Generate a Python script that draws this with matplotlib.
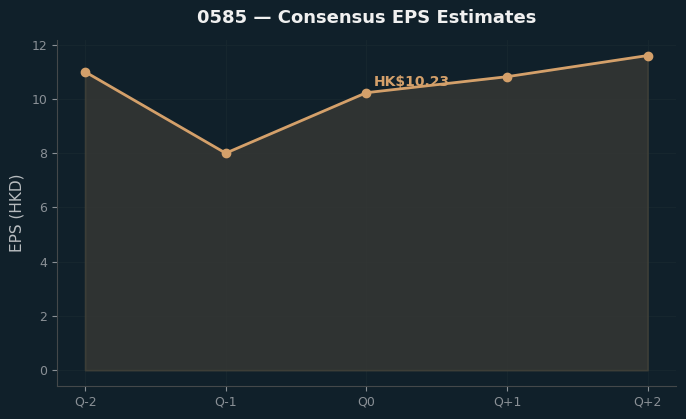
import numpy as np
import matplotlib.pyplot as plt

# consensus EPS per quarter
quarters = ["Q-2", "Q-1", "Q0", "Q+1", "Q+2"]
eps = [11.0, 8.0, 10.23, 10.82, 11.6]
current_label = "HK$10.23"

bg = "#10202a"
line_col = "#d4a06a"

fig = plt.figure(figsize=(6.86, 4.19), dpi=100, facecolor=bg)
ax = fig.add_axes([0.083, 0.079, 0.902, 0.826])
ax.set_facecolor(bg)

x = np.arange(len(quarters))
ax.fill_between(x, eps, 0, color="#3a3a36", alpha=0.75, edgecolor="#45443a", linewidth=1.2)
ax.plot(x, eps, color=line_col, linewidth=2, marker="o", markersize=6)
ax.annotate(current_label, (x[2], eps[2]), xytext=(5, 3), textcoords="offset points",
            color=line_col, fontsize=10, fontweight="bold", ha="left", va="bottom")

ax.set_xticks(x)
ax.set_xticklabels(quarters)
ax.set_ylabel("EPS (HKD)", color="#b8bcbf", fontsize=11, labelpad=5)
ax.set_title("0585 — Consensus EPS Estimates", color="#f0f0f0", fontsize=13,
             fontweight="bold", pad=12)

ax.grid(True, color="#18282f", linewidth=0.6)
ax.set_axisbelow(True)
for s in ["top", "right"]:
    ax.spines[s].set_visible(False)
for s in ["left", "bottom"]:
    ax.spines[s].set_color("#44484a")
ax.tick_params(colors="#8a9096", labelsize=9)
for lbl in ax.get_xticklabels() + ax.get_yticklabels():
    lbl.set_color("#8a9096")

fig.savefig("out.png", facecolor=bg)
